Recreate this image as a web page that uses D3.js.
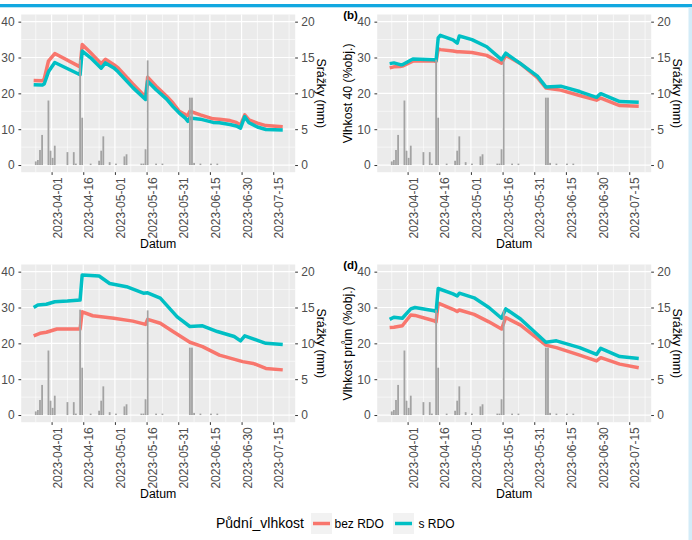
<!DOCTYPE html>
<html><head><meta charset="utf-8">
<script src="https://cdn.jsdelivr.net/npm/d3@7"></script>
<style>
body{margin:0;background:#fff}
svg{display:block;font-family:"Liberation Sans",Arial,sans-serif}
</style>
</head><body>
<svg id="chart" width="692" height="540"></svg>
<script>
// ---------- DATA ----------
const precipDates = ["2023-03-24","2023-03-25","2023-03-26","2023-03-27","2023-03-30","2023-03-31","2023-04-01","2023-04-02","2023-04-08","2023-04-11","2023-04-12","2023-04-14","2023-04-15","2023-04-19","2023-04-23","2023-04-24","2023-04-25","2023-04-28","2023-05-01","2023-05-05","2023-05-06","2023-05-13","2023-05-14","2023-05-15","2023-05-16","2023-05-20","2023-05-23","2023-06-05","2023-06-06","2023-06-07","2023-06-10","2023-06-15","2023-06-18"];
const precipMM = [0.5,0.7,2.1,4.2,9.0,2.0,1.0,2.7,1.8,1.8,0.2,14.7,6.6,0.2,0.6,2.0,4.0,0.4,0.2,1.2,1.5,0.2,0.2,2.2,14.6,0.2,0.2,9.4,9.4,0.3,0.2,0.2,0.2];

// panel (a)
const aDates = ["2023-03-23","2023-03-27","2023-03-28","2023-03-30","2023-04-02","2023-04-14","2023-04-15","2023-04-19","2023-04-24","2023-04-26","2023-04-30","2023-05-02","2023-05-09","2023-05-15","2023-05-16","2023-05-20","2023-05-25","2023-05-28","2023-05-31","2023-06-03","2023-06-04","2023-06-05","2023-06-10","2023-06-16","2023-06-19","2023-06-24","2023-06-27","2023-06-29","2023-07-01","2023-07-03","2023-07-07","2023-07-11","2023-07-19"];
const aBezValues = [23.6,23.5,24.0,29.0,31.1,27.4,33.6,31.3,28.3,29.5,28.0,27.1,22.6,19.0,24.5,22.0,19.2,17.3,15.0,14.0,13.8,15.0,14.0,12.9,12.8,12.4,11.9,11.2,14.0,12.6,11.7,11.0,10.7];
const aSValues   = [22.4,22.3,22.6,26.0,28.6,25.2,31.8,29.9,27.0,28.5,27.1,26.0,21.6,18.3,23.4,21.0,18.4,16.3,14.5,13.0,12.2,13.1,12.8,11.9,11.8,11.3,10.9,10.3,13.5,11.8,10.6,9.9,9.8];

// panel (b)
const bDates = ["2023-03-23","2023-03-25","2023-03-28","2023-03-29","2023-04-03","2023-04-13","2023-04-14","2023-04-15","2023-04-16","2023-04-22","2023-04-24","2023-04-25","2023-05-01","2023-05-08","2023-05-15","2023-05-17","2023-05-24","2023-06-01","2023-06-05","2023-06-12","2023-06-21","2023-06-29","2023-07-01","2023-07-10","2023-07-19"];
const bBezValues = [27.1,27.4,27.5,27.6,29.0,29.0,28.9,32.4,32.2,31.8,31.6,31.6,31.4,30.6,28.4,30.6,28.3,24.4,21.5,20.9,19.4,18.1,18.7,16.6,16.4];
const bSValues   = [28.3,28.5,28.0,28.0,29.6,29.4,29.2,35.5,36.2,34.9,34.0,36.0,35.0,33.0,29.4,31.2,28.3,24.8,21.8,22.0,20.5,18.9,19.9,17.7,17.5];

// panel (c)
const cSDates = ["2023-03-23","2023-03-25","2023-03-29","2023-04-02","2023-04-08","2023-04-14","2023-04-15","2023-04-23","2023-04-28","2023-05-06","2023-05-14","2023-05-16","2023-05-22","2023-05-30","2023-06-05","2023-06-11","2023-06-18","2023-06-26","2023-06-29","2023-07-01","2023-07-11","2023-07-19"];
const cSValues = [30.0,30.7,30.9,31.6,31.8,32.1,39.1,38.8,36.7,35.8,34.0,34.1,32.6,27.4,24.7,24.9,23.3,21.9,20.7,22.1,20.0,19.7];
const cBezDates = ["2023-03-23","2023-03-26","2023-03-29","2023-04-03","2023-04-14","2023-04-15","2023-04-20","2023-04-30","2023-05-09","2023-05-15","2023-05-16","2023-05-22","2023-05-28","2023-06-05","2023-06-11","2023-06-19","2023-06-30","2023-07-05","2023-07-11","2023-07-19"];
const cBezValues = [22.1,22.8,23.1,24.0,24.0,28.8,27.7,27.0,26.2,25.3,26.7,25.6,23.3,20.3,19.1,16.7,14.9,14.4,13.0,12.6];

// panel (d)
const dDates = ["2023-03-23","2023-03-25","2023-03-29","2023-04-02","2023-04-04","2023-04-13","2023-04-14","2023-04-15","2023-04-22","2023-04-24","2023-04-25","2023-05-02","2023-05-09","2023-05-15","2023-05-17","2023-05-24","2023-06-05","2023-06-10","2023-06-21","2023-06-29","2023-07-01","2023-07-10","2023-07-19"];
const dBezValues = [24.4,24.5,24.9,27.9,27.8,26.3,26.0,31.2,29.5,28.9,29.3,28.1,26.0,24.0,27.2,25.1,19.5,18.8,16.7,15.1,16.0,14.2,13.2];
const dSValues   = [26.7,27.3,27.0,29.6,30.0,29.1,28.8,35.3,33.8,33.2,34.0,32.7,30.0,27.0,29.6,26.8,20.3,20.7,18.8,16.9,18.6,16.3,15.8];

const xTickDates = ["2023-04-01","2023-04-16","2023-05-01","2023-05-16","2023-05-31","2023-06-15","2023-06-30","2023-07-15"];
const yTicks = [0,10,20,30,40];
const yMinorTicks = [5,15,25,35];
const y2Ticks = [0,5,10,15,20];
const seriesNames = ["bez RDO","s RDO"];
const seriesColors = ["#F8766D","#00BFC4"];
const legendTitle = "Půdní_vlhkost";
const xTitle = "Datum";
const y2Title = "Srážky (mm)";

// ---------- SETUP ----------
const parse = s => d3.timeHour.offset(d3.timeParse("%Y-%m-%d")(s), 12);
const parseTick = d3.timeParse("%Y-%m-%d");
const fmt = d3.timeFormat("%Y-%m-%d");
const precip = precipDates.map((d,i)=>({date:parse(d), mm:precipMM[i]}));
const mk = (dates, vals) => dates.map((d,i)=>({date:parse(d), v:vals[i]}));

const panels = [
  {tag:null, ytitle:null, left:21.2, top:14.5, series:[mk(aDates,aBezValues), mk(aDates,aSValues)]},
  {tag:"(b)", ytitle:"Vlhkost 40 (%obj.)", left:377.2, top:14.5, series:[mk(bDates,bBezValues), mk(bDates,bSValues)]},
  {tag:null, ytitle:null, left:21.2, top:264.5, series:[mk(cBezDates,cBezValues), mk(cSDates,cSValues)]},
  {tag:"(d)", ytitle:"Vlhkost prům (%obj.)", left:377.2, top:264.5, series:[mk(dDates,dBezValues), mk(dDates,dSValues)]}
];
const PW = 274, PH = 157.7;

const allDates = panels.flatMap(p=>p.series.flat().map(d=>d.date)).concat(precip.map(d=>d.date));
const dMin = d3.min(allDates), dMax = d3.max(allDates);
const span = dMax - dMin;
const xDomain = [new Date(+dMin - span*0.05), new Date(+dMax + span*0.05)];

const svg = d3.select("#chart");
svg.append("rect").attr("x",0).attr("y",0).attr("width",692).attr("height",540).attr("fill","#ffffff");
svg.append("rect").attr("x",0).attr("y",4).attr("width",692).attr("height",3.3).attr("fill","#12A8E0");
svg.append("rect").attr("x",688.5).attr("y",7.3).attr("width",3.5).attr("height",533).attr("fill","#D3ECF8");

panels.forEach(p => {
  const x = d3.scaleTime().domain(xDomain).range([p.left, p.left+PW]);
  const y = d3.scaleLinear().domain([-2,42]).range([p.top+PH, p.top]);
  const y2 = d3.scaleLinear().domain([-1,21]).range([p.top+PH, p.top]);
  const g = svg.append("g");
  g.append("rect").attr("x",p.left).attr("y",p.top).attr("width",PW).attr("height",PH).attr("fill","#EBEBEB");

  // minor grid
  const xMaj = xTickDates.map(parseTick);
  const xMin = [];
  const step = xMaj[1]-xMaj[0];
  [new Date(+xMaj[0]-step/2)].concat(xMaj.map(d=>new Date(+d+step/2))).forEach(d=>{ if(d>=xDomain[0] && d<=xDomain[1]) xMin.push(d); });
  g.selectAll(".vmin").data(xMin).join("line").attr("x1",d=>x(d)).attr("x2",d=>x(d)).attr("y1",p.top).attr("y2",p.top+PH).attr("stroke","#fff").attr("stroke-width",0.6);
  g.selectAll(".hmin").data(yMinorTicks).join("line").attr("x1",p.left).attr("x2",p.left+PW).attr("y1",d=>y(d)).attr("y2",d=>y(d)).attr("stroke","#fff").attr("stroke-width",0.6);
  g.selectAll(".vmaj").data(xMaj).join("line").attr("x1",d=>x(d)).attr("x2",d=>x(d)).attr("y1",p.top).attr("y2",p.top+PH).attr("stroke","#fff").attr("stroke-width",1.2);
  g.selectAll(".hmaj").data(yTicks).join("line").attr("x1",p.left).attr("x2",p.left+PW).attr("y1",d=>y(d)).attr("y2",d=>y(d)).attr("stroke","#fff").attr("stroke-width",1.2);

  // lines
  const line = d3.line().x(d=>x(d.date)).y(d=>y(d.v));
  p.series.forEach((s,i)=>{
    g.append("path").datum(s).attr("d",line).attr("fill","none").attr("stroke",seriesColors[i]).attr("stroke-width",3.5).attr("stroke-linejoin","round");
  });

  // bars (precipitation, secondary axis)
  const dayPx = x(new Date(2023,3,2)) - x(new Date(2023,3,1));
  const bw = dayPx*0.85;
  g.selectAll(".bar").data(precip).join("rect")
    .attr("x",d=>x(d.date)-bw/2).attr("width",bw)
    .attr("y",d=>y2(d.mm)).attr("height",d=>y2(0)-y2(d.mm))
    .attr("fill","#A3A3A3");

  // axes
  const styleAxis = ax => {
    ax.select(".domain").remove();
    ax.selectAll(".tick line").attr("stroke","#333333").attr("stroke-width",1);
    ax.selectAll(".tick text").attr("fill","#4D4D4D").attr("font-size",12).attr("font-family","Liberation Sans, Arial, sans-serif");
  };
  const axL = g.append("g").attr("transform",`translate(${p.left},0)`)
    .call(d3.axisLeft(y).tickValues(yTicks).tickSize(2.75).tickPadding(3.8));
  styleAxis(axL);
  const axR = g.append("g").attr("transform",`translate(${p.left+PW},0)`)
    .call(d3.axisRight(y2).tickValues(y2Ticks).tickSize(2.75).tickPadding(3.3));
  styleAxis(axR);
  const axB = g.append("g").attr("transform",`translate(0,${p.top+PH})`)
    .call(d3.axisBottom(x).tickValues(xMaj).tickFormat(fmt).tickSize(2.75));
  styleAxis(axB);
  axB.selectAll(".tick text").attr("transform","rotate(-90)").attr("text-anchor","end")
    .attr("x",-5).attr("y",9.6).attr("dy",null);

  // titles
  g.append("text").attr("x",p.left+PW/2).attr("y",p.top+PH+76).attr("text-anchor","middle")
    .attr("font-size",12.3).attr("fill","#000").text(xTitle);
  const cy = p.top+PH/2;
  g.append("text").attr("transform",`translate(${p.left+PW+21.5},${cy}) rotate(90)`).attr("text-anchor","middle")
    .attr("font-size",12.3).attr("fill","#000").text(y2Title);
  if (p.ytitle) {
    g.append("text").attr("transform",`translate(${p.left-25.5},${cy}) rotate(-90)`).attr("text-anchor","middle")
      .attr("font-size",12.3).attr("fill","#000").text(p.ytitle);
  }
  if (p.tag) {
    g.append("text").attr("x",p.left-34).attr("y",p.top+4.5).attr("font-size",11.5).attr("font-weight","bold")
      .attr("fill","#000").text(p.tag);
  }
});

// legend
const lg = svg.append("g");
lg.append("text").attr("x",216).attr("y",527.5).attr("font-size",14).attr("fill","#000").text(legendTitle);
const keyX = [311, 393], labX = [334.5, 418.5];
seriesNames.forEach((n,i)=>{
  lg.append("rect").attr("x",keyX[i]).attr("y",513).attr("width",21).attr("height",21).attr("fill","#F2F2F2");
  lg.append("line").attr("x1",keyX[i]+2).attr("x2",keyX[i]+19).attr("y1",523.5).attr("y2",523.5)
    .attr("stroke",seriesColors[i]).attr("stroke-width",3.5);
  lg.append("text").attr("x",labX[i]).attr("y",527.7).attr("font-size",12).attr("fill","#000").text(n);
});
</script>
</body></html>
